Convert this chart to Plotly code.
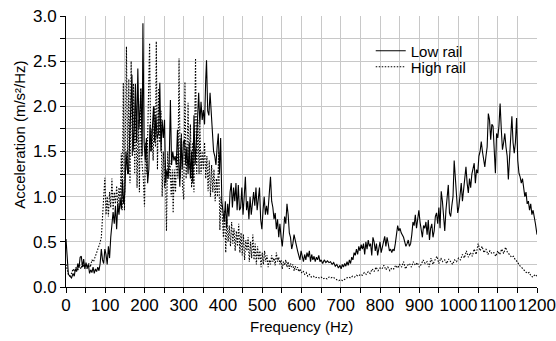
import plotly.graph_objects as go

# Low rail spectrum: (frequency Hz, acceleration)
low_rail = [
    (0,0.53),(3,0.25),(6,0.14),(10,0.12),(14,0.10),(18,0.15),(21,0.12),(24,0.20),(27,0.17),(30,0.26),
    (33,0.21),(36,0.33),(39,0.34),(42,0.22),(45,0.31),(48,0.20),(51,0.27),(54,0.21),(57,0.25),(60,0.15),
    (63,0.19),(66,0.16),(69,0.22),(72,0.15),(75,0.20),(78,0.17),(81,0.22),(84,0.18),(87,0.26),(90,0.42),
    (93,0.30),(96,0.26),(99,0.42),(102,0.36),(105,0.25),(108,0.45),(111,0.32),(114,0.55),(117,0.72),(120,0.83),
    (123,0.70),(126,0.90),(129,0.64),(132,0.92),(135,0.80),(138,0.98),(141,0.86),(144,1.18),(147,0.92),(150,1.05),
    (153,1.50),(156,1.30),(159,1.25),(162,1.60),(165,1.90),(168,2.35),(171,1.50),(174,1.75),(177,2.25),(180,1.60),
    (183,2.42),(186,1.75),(189,2.00),(191,2.20),(194,1.45),(196,2.92),(199,1.60),(202,1.40),(205,1.65),(208,1.15),
    (211,1.30),(214,1.80),(217,1.50),(220,1.70),(223,2.00),(226,1.60),(229,1.90),(232,1.65),(236,1.70),(239,2.26),
    (242,1.50),(245,1.85),(248,1.65),(251,1.85),(254,1.15),(257,1.30),(260,1.20),(263,1.40),(266,2.07),(269,1.35),
    (272,1.50),(275,1.40),(278,1.45),(281,1.35),(284,1.74),(287,1.40),(290,1.11),(293,1.65),(296,1.30),(299,1.60),
    (302,1.63),(305,1.35),(308,1.55),(311,1.25),(314,1.60),(317,1.20),(320,1.50),(323,1.15),(326,1.90),(329,1.35),
    (332,1.55),(335,1.85),(338,2.15),(341,1.80),(344,2.05),(347,1.85),(350,1.96),(353,1.80),(356,2.30),(358,2.51),
    (361,1.95),(364,1.90),(367,2.15),(370,1.90),(373,1.65),(376,1.50),(379,1.45),(382,1.35),(385,1.55),(388,1.70),
    (391,1.25),(394,1.65),(397,0.95),(400,0.85),(403,0.72),(406,0.95),(409,0.65),(412,0.92),(415,0.78),(418,1.05),
    (421,1.15),(424,0.88),(427,1.10),(430,0.95),(433,1.15),(436,0.85),(439,1.13),(442,0.85),(445,0.88),(448,1.10),
    (451,0.80),(454,1.00),(457,1.22),(460,0.85),(463,0.95),(466,0.75),(469,1.00),(472,0.80),(475,0.97),(478,1.05),
    (481,0.90),(484,1.10),(487,0.85),(490,1.02),(493,1.10),(496,0.75),(499,0.64),(502,0.85),(505,1.00),(508,0.80),
    (511,0.90),(514,0.80),(518,1.05),(521,1.22),(524,0.95),(527,0.88),(530,0.75),(533,0.82),(536,0.64),(539,0.75),
    (542,0.55),(545,0.70),(548,0.55),(551,0.45),(554,0.60),(557,0.78),(560,0.70),(563,0.92),(566,0.80),(569,0.60),
    (572,0.55),(575,0.42),(578,0.48),(581,0.58),(584,0.52),(587,0.44),(590,0.40),(593,0.35),(596,0.30),(599,0.40),
    (602,0.32),(605,0.28),(608,0.36),(611,0.30),(614,0.38),(617,0.33),(620,0.40),(623,0.28),(626,0.36),(629,0.30),
    (632,0.34),(635,0.28),(638,0.33),(641,0.30),(644,0.35),(647,0.28),(650,0.30),(654,0.26),(658,0.30),(662,0.27),
    (666,0.29),(670,0.27),(674,0.28),(678,0.25),(682,0.27),(686,0.23),(690,0.25),(694,0.21),(698,0.24),(701,0.20),
    (704,0.25),(707,0.22),(710,0.26),(713,0.23),(716,0.28),(719,0.24),(722,0.30),(725,0.26),(728,0.33),(731,0.30),
    (734,0.38),(737,0.35),(740,0.42),(743,0.36),(746,0.45),(749,0.40),(752,0.47),(755,0.42),(758,0.48),(761,0.36),
    (764,0.50),(767,0.42),(770,0.52),(773,0.45),(776,0.48),(779,0.35),(782,0.55),(785,0.50),(788,0.40),(791,0.48),
    (794,0.35),(797,0.42),(800,0.50),(803,0.38),(806,0.45),(809,0.52),(812,0.56),(815,0.45),(818,0.55),(821,0.48),
    (824,0.40),(827,0.42),(830,0.38),(833,0.42),(836,0.40),(839,0.48),(842,0.62),(845,0.68),(848,0.62),(851,0.65),
    (854,0.60),(857,0.58),(860,0.55),(863,0.50),(866,0.45),(869,0.48),(872,0.52),(875,0.45),(878,0.48),(881,0.58),
    (884,0.72),(887,0.68),(890,0.80),(893,0.65),(896,0.75),(899,0.85),(902,0.72),(905,0.62),(908,0.55),(911,0.68),
    (914,0.65),(917,0.72),(920,0.58),(923,0.74),(926,0.52),(929,0.65),(932,0.70),(935,0.55),(938,0.62),(941,0.78),
    (944,0.82),(947,0.70),(950,0.88),(953,0.65),(956,1.06),(959,0.95),(962,0.72),(965,0.62),(968,0.85),(971,1.05),
    (974,1.13),(977,0.82),(980,0.78),(983,0.90),(986,1.00),(989,1.40),(992,1.20),(995,0.95),(998,0.82),(1001,0.89),
    (1004,1.05),(1007,1.15),(1010,0.95),(1013,1.10),(1016,1.25),(1019,1.33),(1022,1.15),(1025,1.04),(1028,1.20),(1031,1.10),
    (1034,1.25),(1037,1.30),(1040,1.37),(1043,1.15),(1046,1.30),(1049,1.26),(1052,1.45),(1055,1.50),(1058,1.61),(1061,1.50),
    (1064,1.40),(1067,1.33),(1070,1.45),(1073,1.55),(1076,1.92),(1079,1.85),(1082,1.63),(1085,1.80),(1088,1.78),(1091,1.50),
    (1094,1.26),(1097,1.70),(1100,1.65),(1103,1.78),(1106,2.03),(1109,1.75),(1112,1.52),(1115,1.60),(1118,1.70),(1121,1.55),
    (1124,1.45),(1127,1.19),(1130,1.40),(1133,1.55),(1136,1.89),(1139,1.60),(1142,1.48),(1145,1.60),(1148,1.87),(1151,1.40),
    (1154,1.26),(1157,1.22),(1160,1.15),(1163,1.20),(1166,1.10),(1169,1.00),(1172,1.05),(1175,0.92),(1178,0.95),(1181,0.85),
    (1184,0.92),(1187,0.80),(1190,0.85),(1193,0.75),(1196,0.70),(1200,0.58),
]

# High rail spectrum: (frequency Hz, acceleration)
high_rail = [
    (0,0.25),(3,0.20),(6,0.14),(10,0.12),(14,0.15),(18,0.20),(22,0.17),(26,0.22),(30,0.18),(34,0.25),
    (38,0.20),(42,0.26),(46,0.22),(50,0.25),(54,0.20),(58,0.26),(62,0.22),(66,0.30),(70,0.28),(74,0.33),
    (78,0.38),(82,0.42),(86,0.48),(90,0.55),(93,0.75),(96,0.90),(99,1.21),(102,0.80),(105,1.00),(108,0.78),
    (111,1.05),(114,0.88),(117,1.20),(120,0.85),(123,1.05),(126,0.92),(129,1.12),(132,0.88),(135,1.10),(138,0.95),
    (141,1.48),(143,0.85),(146,2.26),(149,0.85),(151,1.40),(154,2.66),(157,1.25),(160,2.30),(163,1.15),(166,2.50),
    (169,1.45),(172,2.25),(175,1.25),(178,2.00),(181,1.10),(184,1.85),(187,1.05),(190,2.20),(193,1.40),(197,1.20),
    (200,0.89),(203,1.60),(206,1.25),(209,1.80),(213,2.70),(216,1.50),(219,1.75),(222,1.40),(225,2.00),(228,1.55),
    (230,2.72),(233,1.30),(236,2.20),(239,1.60),(242,1.95),(245,1.00),(248,1.50),(251,1.10),(253,1.40),(256,0.62),
    (259,1.50),(262,1.20),(265,1.40),(268,1.00),(271,1.30),(273,0.82),(276,1.30),(279,1.05),(282,1.50),(285,1.20),
    (288,2.53),(291,1.20),(294,1.70),(297,1.10),(300,0.97),(303,2.27),(306,1.20),(309,1.60),(311,2.04),(314,1.30),
    (317,1.80),(320,1.10),(323,1.60),(326,1.05),(330,2.53),(333,1.25),(336,1.85),(339,1.25),(341,1.81),(344,1.25),
    (347,1.50),(350,1.30),(353,1.60),(356,1.20),(359,1.45),(362,1.06),(365,1.40),(368,1.00),(371,1.35),(374,1.05),
    (377,1.30),(380,0.95),(383,1.20),(386,1.00),(389,1.50),(392,0.63),(395,1.00),(398,0.80),(401,0.55),(404,0.85),
    (407,0.38),(410,0.75),(413,0.50),(416,0.68),(419,0.45),(422,0.72),(425,0.48),(428,0.65),(431,0.40),(434,0.62),
    (437,0.45),(440,0.70),(443,0.38),(446,0.60),(449,0.35),(452,0.58),(455,0.30),(458,0.52),(461,0.40),(464,0.55),
    (467,0.28),(470,0.50),(473,0.32),(476,0.58),(479,0.30),(482,0.48),(485,0.25),(488,0.45),(491,0.30),(494,0.40),
    (497,0.22),(500,0.38),(503,0.25),(506,0.40),(509,0.28),(512,0.35),(515,0.22),(518,0.30),(521,0.25),(524,0.35),
    (527,0.28),(530,0.32),(533,0.24),(536,0.38),(539,0.28),(542,0.33),(545,0.25),(548,0.30),(551,0.20),(554,0.28),
    (557,0.24),(560,0.30),(563,0.22),(566,0.28),(569,0.20),(572,0.26),(575,0.22),(578,0.25),(581,0.18),(584,0.23),
    (587,0.19),(590,0.22),(593,0.17),(596,0.20),(600,0.16),(604,0.18),(608,0.14),(612,0.16),(616,0.12),(620,0.14),
    (625,0.11),(630,0.12),(635,0.10),(640,0.11),(645,0.10),(650,0.11),(655,0.09),(660,0.10),(665,0.09),(670,0.11),
    (675,0.10),(680,0.11),(685,0.09),(690,0.08),(695,0.07),(700,0.08),(705,0.07),(710,0.09),(715,0.10),(720,0.11),
    (725,0.10),(730,0.12),(735,0.11),(740,0.13),(745,0.12),(750,0.14),(755,0.13),(760,0.16),(765,0.14),(770,0.17),
    (775,0.15),(780,0.20),(785,0.17),(790,0.22),(795,0.18),(800,0.21),(805,0.20),(810,0.24),(815,0.19),(820,0.22),
    (825,0.18),(830,0.21),(835,0.20),(840,0.24),(845,0.21),(850,0.25),(855,0.22),(860,0.28),(865,0.20),(870,0.24),
    (875,0.26),(880,0.22),(885,0.28),(890,0.24),(895,0.27),(900,0.22),(905,0.25),(910,0.30),(915,0.26),(920,0.28),
    (925,0.22),(930,0.32),(935,0.25),(940,0.30),(945,0.34),(950,0.26),(955,0.32),(960,0.28),(965,0.30),(970,0.26),
    (975,0.31),(980,0.28),(985,0.25),(990,0.30),(995,0.28),(1000,0.32),(1005,0.30),(1010,0.36),(1015,0.32),(1020,0.40),
    (1025,0.33),(1030,0.38),(1035,0.34),(1040,0.42),(1045,0.36),(1050,0.48),(1055,0.40),(1060,0.45),(1065,0.38),(1070,0.42),
    (1075,0.36),(1080,0.40),(1085,0.37),(1090,0.38),(1095,0.34),(1100,0.40),(1105,0.36),(1110,0.42),(1115,0.37),(1120,0.44),
    (1125,0.38),(1130,0.36),(1135,0.33),(1140,0.34),(1145,0.30),(1150,0.28),(1155,0.24),(1160,0.22),(1165,0.20),(1170,0.18),
    (1175,0.15),(1180,0.16),(1185,0.12),(1190,0.11),(1195,0.14),(1200,0.12),
]

low_freq = [p[0] for p in low_rail]
low_vals = [p[1] for p in low_rail]
high_freq = [p[0] for p in high_rail]
high_vals = [p[1] for p in high_rail]

x_ticks = list(range(0, 1201, 100))
x_grid = list(range(50, 1200, 50))
y_ticks = [0.0, 0.5, 1.0, 1.5, 2.0, 2.5, 3.0]
y_grid = [0.25 * i for i in range(1, 12)]

FONT = "Liberation Sans, Arial, sans-serif"

fig = go.Figure()
fig.add_trace(go.Scatter(x=low_freq, y=low_vals, mode="lines", name="Low rail",
                         line=dict(color="black", width=1.1), legend="legend"))
fig.add_trace(go.Scatter(x=high_freq, y=high_vals, mode="lines", name="High rail",
                         line=dict(color="black", width=1.1, dash="1.5px,1.5px"),
                         legend="legend2"))

legend_common = dict(xanchor="left", yanchor="middle", bgcolor="rgba(0,0,0,0)",
                     font=dict(size=15), itemwidth=30)

fig.update_layout(
    width=556, height=341,
    margin=dict(l=66, r=19, t=16, b=54, autoexpand=False),
    paper_bgcolor="white", plot_bgcolor="white",
    font=dict(family=FONT, size=15, color="black"),
    showlegend=True,
    legend=dict(x=0.647, y=0.871, **legend_common),
    legend2=dict(x=0.647, y=0.812, **legend_common),
    xaxis=dict(range=[0, 1200], tickvals=x_ticks, ticks="outside", ticklen=5,
               tickcolor="black", showline=True, linecolor="black", linewidth=1,
               showgrid=False, zeroline=False, tickfont=dict(size=17), automargin=False,
               ticklabelstandoff=-2,
               minor=dict(tickvals=x_grid, ticks="outside", ticklen=5, tickcolor="black",
                          showgrid=True, gridcolor="#c8c8c8", gridwidth=1)),
    yaxis=dict(range=[0, 3.0], tickvals=y_ticks, ticktext=[f"{v:.1f}" for v in y_ticks],
               ticks="outside", ticklen=5, tickcolor="black", showline=True,
               linecolor="black", linewidth=1, showgrid=False, zeroline=False,
               tickfont=dict(size=17), automargin=False,
               minor=dict(tickvals=y_grid, ticks="outside", ticklen=5, tickcolor="black",
                          showgrid=True, gridcolor="#c8c8c8", gridwidth=1)),
    annotations=[
        dict(text="Acceleration (m/s²/Hz)", xref="paper", yref="paper",
             x=-0.098, y=0.561, xanchor="center", yanchor="middle",
             textangle=-90, showarrow=False, font=dict(size=15)),
        dict(text="Frequency (Hz)", xref="paper", yref="paper",
             x=0.5, y=-0.147, xanchor="center", yanchor="middle",
             showarrow=False, font=dict(size=15)),
    ],
)

fig.write_html("out.html", config={"displayModeBar": False},
               post_script="document.body.style.margin='0';")
